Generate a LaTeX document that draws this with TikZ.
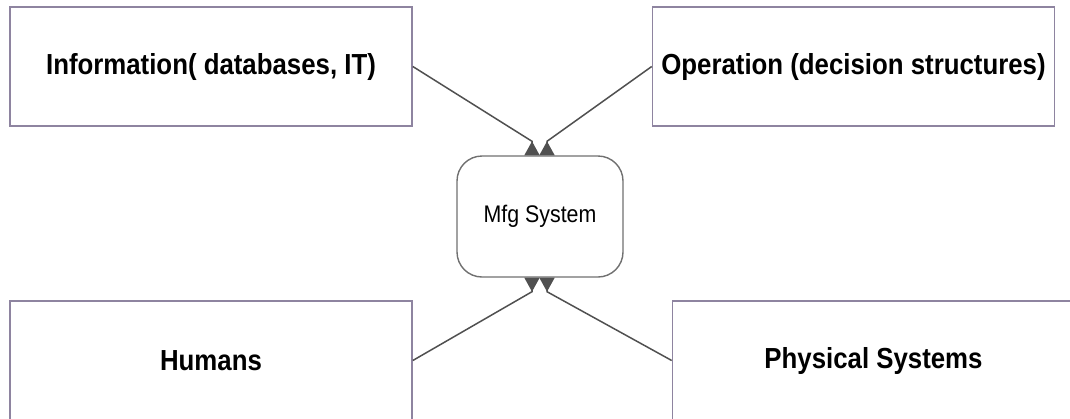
\documentclass[tikz,border=0pt]{standalone}
\usepackage{fontspec}
\setmainfont{Liberation Sans}[FakeStretch=0.89]
\usetikzlibrary{arrows.meta, positioning}

\definecolor{boxline}{HTML}{8E84A0}
\definecolor{sysline}{HTML}{707070}
\definecolor{linkgray}{HTML}{505050}

\begin{document}
\begin{tikzpicture}[
    x=1pt, y=-1pt,
    factor/.style={
        draw=boxline,
        line width=1.6pt,
        minimum width=402pt,
        minimum height=119pt,
        inner sep=0pt,
        font=\fontsize{29}{34}\selectfont\bfseries,
    },
    system/.style={
        draw=sysline,
        line width=1.4pt,
        rounded corners=25pt,
        minimum width=166pt,
        minimum height=121pt,
        inner sep=0pt,
        font=\fontsize{24}{28}\selectfont,
    },
    link/.style={
        draw=linkgray,
        line width=1.5pt,
        -{Triangle[reversed, length=14pt 0 0, width=15pt 0 0]},
    }
]
    \useasboundingbox (0,0) rectangle (1070,418);

    % Centre
    \node[system] (mfg) at (540,216.5) {Mfg System};

    % Factors
    \node[factor] (info) at (211,66.5) {Information( databases, IT)};
    \node[factor] (oper) at (853.5,66.5) {Operation (decision structures)};
    \node[factor] (humans) at (211,360.5) {Humans};
    \node[factor] (phys) at (873.5,360.5) {Physical Systems};

    % Links
    \draw[link] (info.east) -- ([xshift=-8pt, yshift=14pt]mfg.north) -- ([xshift=-8pt]mfg.north);
    \draw[link] (oper.west) -- ([xshift=7pt, yshift=14pt]mfg.north) -- ([xshift=7pt]mfg.north);
    \draw[link] (humans.east) -- ([xshift=-8pt, yshift=-14pt]mfg.south) -- ([xshift=-8pt]mfg.south);
    \draw[link] (phys.west) -- ([xshift=7pt, yshift=-14pt]mfg.south) -- ([xshift=7pt]mfg.south);
\end{tikzpicture}
\end{document}
